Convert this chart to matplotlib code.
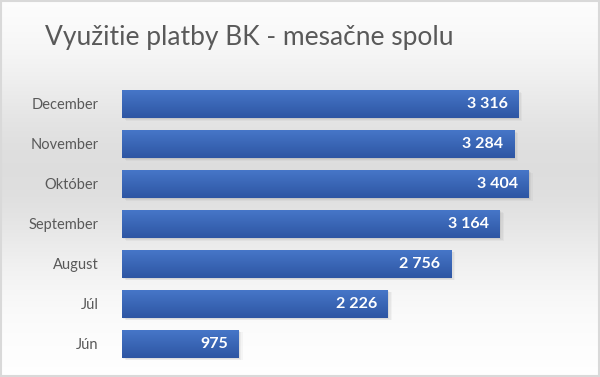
import matplotlib
matplotlib.use("Agg")
import matplotlib.pyplot as plt
import numpy as np
from matplotlib.patches import Rectangle

months = ["Jún", "Júl", "August", "September", "Október", "November", "December"]
values = [975, 2226, 2756, 3164, 3404, 3284, 3316]
labels = ["975", "2 226", "2 756", "3 164", "3 404", "3 284", "3 316"]
title = "Využitie platby BK - mesačne spolu"

plt.rcParams['font.family'] = ['Lato', 'DejaVu Sans']

fig = plt.figure(figsize=(6, 3.77), dpi=100)

# background gradient
bg = fig.add_axes([0, 0, 1, 1], zorder=-10)
t = np.linspace(0, 1, 256)
shade = 1 - 0.13 * np.exp(-((t - 0.45) / 0.28) ** 2)
img = np.dstack([shade, shade, shade])[:, None, :].reshape(256, 1, 3)
bg.imshow(img, aspect='auto', extent=[0, 1, 0, 1], origin='upper')
bg.add_patch(Rectangle((0.001, 0.002), 0.997, 0.995, fill=False, edgecolor='#d9d9d9', lw=1.5, transform=bg.transAxes))
bg.set_axis_off()

ax = fig.add_axes([122/600, 1-363.5/377, (564-122)/600, (363.5-84)/377])
ax.patch.set_alpha(0)
y = np.arange(len(months))
bars = ax.barh(y, values, height=0.7, color='#3a66bb', zorder=3)

# gradient fill for bars
grad = np.linspace(0, 1, 64)[:, None]
top = np.array([0x46, 0x76, 0xc8]) / 255
bot = np.array([0x2e, 0x56, 0xa3]) / 255
gimg = (top[None, None, :] * (1 - grad[:, :, None]) + bot[None, None, :] * grad[:, :, None])
for b in bars:
    x0, y0, w, h = b.get_x(), b.get_y(), b.get_width(), b.get_height()
    # soft shadow
    for k, a in enumerate([0.05, 0.04, 0.03]):
        ax.add_patch(Rectangle((x0 + 10 + 12 * k, y0 - 0.03 - 0.02 * k), w, h, facecolor='#000000',
                               alpha=a, edgecolor='none', zorder=2))
    im = ax.imshow(gimg, aspect='auto', extent=[x0, x0 + w, y0, y0 + h], origin='upper', zorder=4)
    im.set_clip_path(b)

for yi, v, lab in zip(y, values, labels):
    ax.text(v - 90, yi, lab, ha='right', va='center', color='white', fontsize=11.5, fontweight='bold', zorder=5)

ax.set_xlim(0, 3700)
ax.set_ylim(-0.5, len(months) - 0.5)
ax.set_yticks(y)
ax.set_yticklabels(months, fontsize=10.5, color='#595959')
ax.tick_params(axis='y', length=0, pad=17)
ax.set_xticks([])
for s in ax.spines.values():
    s.set_visible(False)

fig.text(45/600, 1-45/377, title, fontsize=19, color='#595959', ha='left', va='baseline')

fig.savefig("out.png", dpi=100)
